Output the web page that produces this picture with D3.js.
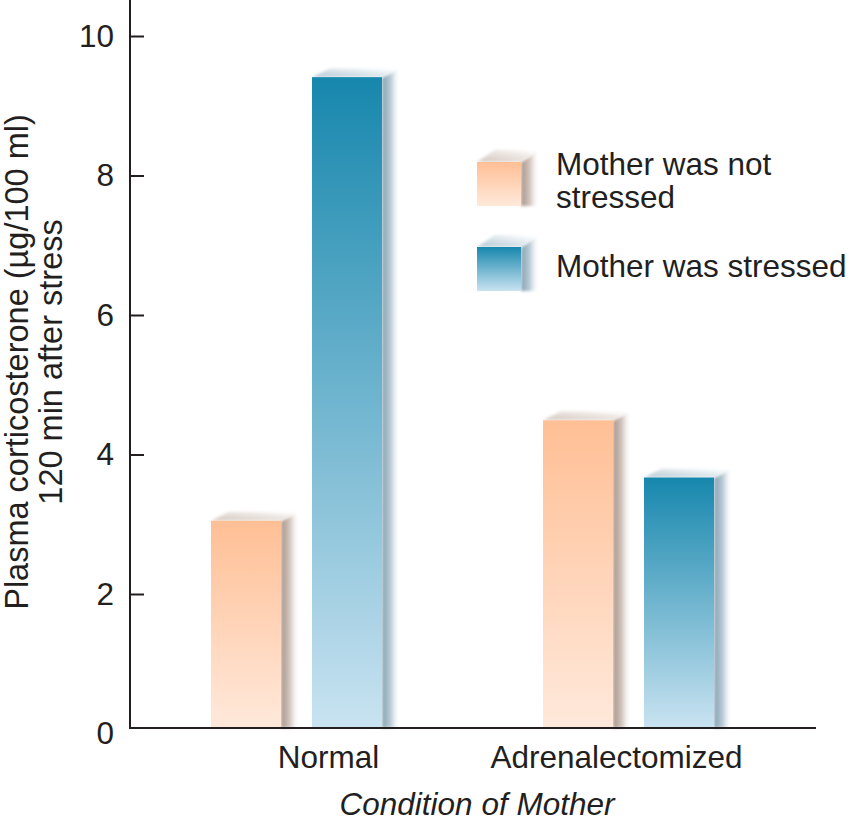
<!DOCTYPE html>
<html><head><meta charset="utf-8">
<script src="https://cdn.jsdelivr.net/npm/d3@7"></script>
<style>
body{margin:0;background:#fff}
svg text{font-family:"Liberation Sans",Arial,Helvetica,sans-serif;fill:#231f20}
</style>
</head><body>
<svg id="c" width="850" height="825"></svg>
<script>
// ---- data ----
const categories = ["Normal", "Adrenalectomized"];
const series = ["Mother was not stressed", "Mother was stressed"];
const notStressed = [3.05, 4.49];
const stressed = [9.41, 3.67];
const yTicks = [0, 2, 4, 6, 8, 10];
const yTitle = ["Plasma corticosterone (µg/100 ml)", "120 min after stress"];
const xTitle = "Condition of Mother";
const legendLines = [["Mother was not", "stressed"], ["Mother was stressed"]];

// ---- layout ----
const svg = d3.select("#c");
const axisX = 130, baseY = 728, axisRight = 816;
const fs = 31.5;
const y = d3.scaleLinear().domain([0, 10]).range([733.5, 36]);
const x0 = d3.scaleBand().domain(categories).range([211, 714]).paddingInner(0.485).paddingOuter(0);
const x1 = d3.scaleBand().domain(series).range([0, x0.bandwidth()]).paddingInner(0.307).paddingOuter(0);
const labelDx = [32, -12];

const styles = [
  {top: "#ffbf95", bottom: "#ffe9db", side: "#a8968b", sideMid: "#d2c6be", cap: "#d3c7bf", capEnd: "#efe9e5"},
  {top: "#1787ad", bottom: "#c9e3f1", side: "#84a0b1", sideMid: "#bccdd7", cap: "#b3c6d1", capEnd: "#e8eff3"}
];

const defs = svg.append("defs");
const blur = defs.append("filter").attr("id", "soft").attr("x", "-20%").attr("y", "-20%").attr("width", "140%").attr("height", "140%");
blur.append("feGaussianBlur").attr("stdDeviation", 1.4);
styles.forEach((s, i) => {
  const f = defs.append("linearGradient").attr("id", "front" + i).attr("x1", 0).attr("y1", 0).attr("x2", 0).attr("y2", 1);
  f.append("stop").attr("offset", 0).attr("stop-color", s.top);
  f.append("stop").attr("offset", 1).attr("stop-color", s.bottom);
  const sd = defs.append("linearGradient").attr("id", "side" + i).attr("x1", 0).attr("y1", 0).attr("x2", 1).attr("y2", 0);
  sd.append("stop").attr("offset", 0).attr("stop-color", s.side);
  sd.append("stop").attr("offset", 0.5).attr("stop-color", s.sideMid);
  sd.append("stop").attr("offset", 1).attr("stop-color", "#ffffff").attr("stop-opacity", 0);
  const c = defs.append("linearGradient").attr("id", "cap" + i).attr("x1", 0).attr("y1", 1).attr("x2", 1).attr("y2", 0);
  c.append("stop").attr("offset", 0).attr("stop-color", s.cap);
  c.append("stop").attr("offset", 0.65).attr("stop-color", s.capEnd);
  c.append("stop").attr("offset", 1).attr("stop-color", "#ffffff").attr("stop-opacity", 0.3);
});

function box3d(g, x, yTop, w, yBot, dx, dy, i) {
  g.append("path")
    .attr("d", `M${x + w},${yTop} L${x + w + dx},${yTop - dy} L${x + w + dx},${yBot} L${x + w},${yBot} Z`)
    .attr("fill", `url(#side${i})`).attr("filter", "url(#soft)");
  g.append("path")
    .attr("d", `M${x},${yTop} L${x + dx},${yTop - dy} L${x + w + dx},${yTop - dy} L${x + w},${yTop} Z`)
    .attr("fill", `url(#cap${i})`).attr("filter", "url(#soft)");
  g.append("rect").attr("x", x).attr("y", yTop).attr("width", w).attr("height", yBot - yTop)
    .attr("fill", `url(#front${i})`);
}

// ---- bars ----
const barsG = svg.append("g");
const rows = categories.map((c, k) => ({cat: c, vals: [notStressed[k], stressed[k]]}));
rows.forEach(r => {
  r.vals.forEach((v, i) => {
    box3d(barsG, x0(r.cat) + x1(series[i]), y(v), x1.bandwidth(), baseY, 18, 9, i);
  });
});

// ---- axes ----
const yAxis = svg.append("g").attr("transform", `translate(${axisX},0)`)
  .call(d3.axisLeft(y).tickValues(yTicks).tickSizeInner(-14).tickSizeOuter(0).tickPadding(16).tickFormat(d3.format("d")));
yAxis.select(".domain").remove();
yAxis.selectAll(".tick line").attr("stroke", "#231f20").attr("stroke-width", 2)
  .filter(d => d === 0).remove();
yAxis.selectAll(".tick text").attr("font-size", fs).attr("fill", "#231f20")
  .style("font-family", '"Liberation Sans",Arial,sans-serif');

svg.append("line").attr("x1", axisX).attr("x2", axisX).attr("y1", 0).attr("y2", baseY + 1)
  .attr("stroke", "#231f20").attr("stroke-width", 2);
svg.append("line").attr("x1", axisX - 1).attr("x2", axisRight).attr("y1", baseY).attr("y2", baseY)
  .attr("stroke", "#231f20").attr("stroke-width", 2);

// category labels
svg.selectAll(".cat").data(categories).join("text").attr("class", "cat")
  .attr("x", (d, k) => x0(d) + x0.bandwidth() / 2 + labelDx[k]).attr("y", 768)
  .attr("text-anchor", "middle").attr("font-size", fs).text(d => d);

// axis titles
svg.append("text").attr("x", 477).attr("y", 815).attr("text-anchor", "middle")
  .attr("font-size", fs).attr("font-style", "italic").text(xTitle);
const yt = svg.append("g").attr("transform", "translate(0,362) rotate(-90)");
yTitle.forEach((t, k) => {
  yt.append("text").attr("x", 0).attr("y", 28 + k * 34).attr("text-anchor", "middle")
    .attr("font-size", 32.5).text(t);
});

// ---- legend ----
const lg = svg.append("g");
const legendY = [162, 247];
series.forEach((s, i) => {
  box3d(lg, 477, legendY[i], 44, legendY[i] + 44, 18, 12, i);
  legendLines[i].forEach((line, j) => {
    lg.append("text").attr("x", 556).attr("y", legendY[i] + 13 + j * 33 + (i === 1 ? 17 : 0))
      .attr("font-size", fs).text(line);
  });
});
</script>
</body></html>
